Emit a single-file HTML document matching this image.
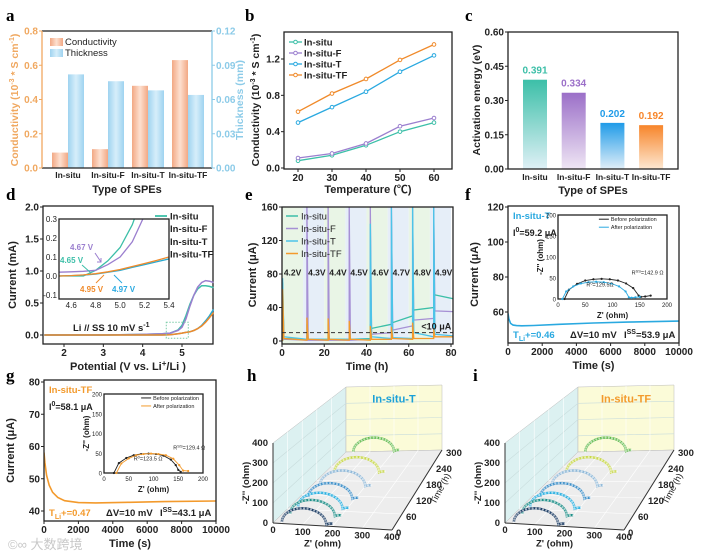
<!DOCTYPE html>
<html><head><meta charset="utf-8"><style>
html,body{margin:0;padding:0;background:#fff;}
svg{display:block;font-family:"Liberation Sans","Noto Sans CJK SC",sans-serif;}
.pl{font-family:"Liberation Serif",serif;font-weight:bold;font-size:17px;}
</style></head><body>
<svg id="fig" width="707" height="556" viewBox="0 0 707 556" xmlns="http://www.w3.org/2000/svg">
<defs>
<linearGradient id="gCond" x1="0" x2="1" y1="0" y2="0"><stop offset="0" stop-color="#f2a884"/><stop offset="0.5" stop-color="#fde0d0"/><stop offset="1" stop-color="#f2a884"/></linearGradient>
<linearGradient id="gThk" x1="0" x2="1" y1="0" y2="0"><stop offset="0" stop-color="#9fd3f0"/><stop offset="0.5" stop-color="#d6eefa"/><stop offset="1" stop-color="#9fd3f0"/></linearGradient>
<linearGradient id="gc0" x1="0" x2="0" y1="0" y2="1"><stop offset="0" stop-color="#3cbfa8"/><stop offset="1" stop-color="#dff0f6"/></linearGradient>
<linearGradient id="gc1" x1="0" x2="0" y1="0" y2="1"><stop offset="0" stop-color="#9b6fc8"/><stop offset="1" stop-color="#efe6f4"/></linearGradient>
<linearGradient id="gc2" x1="0" x2="0" y1="0" y2="1"><stop offset="0" stop-color="#1f9be8"/><stop offset="1" stop-color="#e0eef8"/></linearGradient>
<linearGradient id="gc3" x1="0" x2="0" y1="0" y2="1"><stop offset="0" stop-color="#f7852a"/><stop offset="1" stop-color="#fde8d2"/></linearGradient>
</defs>
<text class="pl" x="6" y="21">a</text>
<text class="pl" x="245" y="21">b</text>
<text class="pl" x="465" y="21">c</text>
<text class="pl" x="6" y="200">d</text>
<text class="pl" x="245" y="200">e</text>
<text class="pl" x="465" y="200">f</text>
<text class="pl" x="6" y="381">g</text>
<text class="pl" x="247" y="381">h</text>
<text class="pl" x="473" y="381">i</text>
<text x="8" y="549" font-size="13" fill="#c8c8c8">©∞ 大数跨境</text>
</svg>
<script>
// ---------- data ----------
const catsA = ["In-situ","In-situ-F","In-situ-T","In-situ-TF"];
const condA = [0.09,0.11,0.48,0.63];
const thickA = [0.082,0.076,0.068,0.064];
const tickA_L = [0,0.2,0.4,0.6,0.8];
const tickA_R = [0,0.03,0.06,0.09,0.12];

const tempB = [20,30,40,50,60];
const bInsitu = [0.08,0.14,0.25,0.40,0.50];
const bF = [0.11,0.16,0.27,0.46,0.55];
const bT = [0.50,0.67,0.84,1.06,1.24];
const bTF = [0.62,0.82,0.98,1.19,1.36];
const tickB_Y = [0,0.4,0.8,1.2];

const catsC = ["In-situ","In-situ-F","In-situ-T","In-situ-TF"];
const eaC = [0.391,0.334,0.202,0.192];
const tickC_Y = [0,0.15,0.30,0.45,0.60];

const potD = [1.5,2,3,4,4.5,4.7,4.9,5.0,5.1,5.2,5.3,5.4,5.5,5.6,5.7,5.8];
const dInsitu = [0,0,0,0.01,0.02,0.03,0.08,0.15,0.3,0.48,0.62,0.72,0.77,0.77,0.76,0.74];
const dF = [0,0,0,0.01,0.02,0.03,0.07,0.12,0.25,0.45,0.62,0.75,0.82,0.85,0.84,0.82];
const dT = [0,0,0,0,0,0.005,0.02,0.03,0.04,0.05,0.07,0.1,0.15,0.22,0.3,0.4];
const dTF = [0,0,0,0,0,0.005,0.02,0.03,0.04,0.05,0.07,0.1,0.14,0.2,0.27,0.35];
const potIn = [4.5,4.6,4.7,4.8,4.9,5.0,5.1,5.2,5.3,5.4];
const inInsitu = [0.0,0.0,0.0,0.03,0.08,0.15,0.27,0.45,0.6,0.7];
const inF = [0.02,0.022,0.025,0.03,0.06,0.1,0.18,0.32,0.5,0.6];
const inT = [0.0,0.002,0.005,0.01,0.02,0.03,0.045,0.06,0.075,0.09];
const inTF = [0.0,0.002,0.006,0.012,0.022,0.034,0.05,0.066,0.082,0.1];

const voltE = ["4.2V","4.3V","4.4V","4.5V","4.6V","4.7V","4.8V","4.9V"];
const eSpikeInsitu = [70,10,10,10,20,25,40,55];
const eStartInsitu = [3,2,2,2,15,22,37,55];
const eEndInsitu = [2,2,2,3,20,30,40,50];
const eSpikeF = [60,160,160,160,160,160,160,160];
const eStartF = [2,1,1,1,8,13,25,36];
const eEndF = [1,1,1,2,10,18,27,35];
const eSpikeT = [75,20,20,20,140,160,160,160];
const eStartT = [5,2,2,2,5,4,10,8];
const eEndT = [2,2,2,2,3,3,5,6];
const eSpikeTF = [62,28,27,24,18,17,22,14];
const eStartTF = [3,2,2,2,2,3,3,5];
const eEndTF = [1,1,1,1,2,2,3,5];

const timeF = [0,50,150,300,500,800,1500,3000,5000,7000,10000];
const curF = [59.2,56,53.5,52.5,52.2,52.1,52.3,53,53.7,54.2,54.8];
const nyqZrF_b = [12,20,35,50,65,80,95,110,125,138,148,152,160,170];
const nyqZiF_b = [0,22,36,44,47,48,47,44,37,26,8,5,6,8];
const nyqZrF_a = [8,15,28,42,56,70,84,98,112,124,130,135,142,150];
const nyqZiF_a = [0,18,30,37,40,41,40,37,30,18,4,3,4,5];

const timeG = [0,50,150,300,500,800,1200,2000,3000,5000,7000,10000];
const curG = [58.1,55,51,48,45.8,44.2,43.2,42.6,42.5,42.7,42.9,43.1];
const nyqZrG_b = [20,30,45,60,75,90,105,120,135,145,150,155];
const nyqZiG_b = [0,25,38,45,48,49,48,44,34,20,8,3];
const nyqZrG_a = [25,35,50,65,80,95,110,125,140,152,160,170];
const nyqZiG_a = [0,24,37,45,48,49,48,45,36,20,6,5];

const t3d = [6,40,70,110,160,215,300];
const r03d = [25,25,28,30,30,35,30];
const rct3d = [175,180,185,190,200,210,200];
const z3Ticks = [0,100,200,300,400];
const t3Ticks = [0,60,120,180,240,300];

// ---------- helpers ----------
const svg = document.getElementById('fig');
const NS = "http://www.w3.org/2000/svg";
function mk(tag, attrs, name, parent){
  const el = document.createElementNS(NS, tag);
  for (const k in attrs) el.setAttribute(k, attrs[k]);
  
  
  (parent||svg).appendChild(el);
  return el;
}
function txt(x,y,s,name,o){
  o=o||{};
  const a={x:x,y:y,'font-size':o.fs||10,'font-weight':o.fw||'bold',fill:o.fill||'#222','text-anchor':o.anchor||'middle'};
  if(o.rot!==undefined) a.transform='rotate('+o.rot+' '+x+' '+y+')';
  const t=mk('text',a,name,o.parent);
  t.innerHTML=s; return t;
}
function lin(d0,d1,r0,r1){return v=>r0+(v-d0)*(r1-r0)/(d1-d0);}
function box(x0,y0,x1,y1,name,col){mk('rect',{x:x0,y:y0,width:x1-x0,height:y1-y0,fill:'none',stroke:col||'#222','stroke-width':1.3},name);}
function poly(xs,ys,sx,sy,col,name,w){
  let d='';xs.forEach((v,i)=>{d+=(i?'L':'M')+sx(v).toFixed(1)+','+sy(ys[i]).toFixed(1);});
  return mk('path',{d:d,fill:'none',stroke:col,'stroke-width':w||1.3},name);
}
function yTicks(vals,sy,x,name,o,fmt){vals.forEach(v=>{mk('line',{x1:x-3,x2:x,y1:sy(v),y2:sy(v),stroke:(o&&o.fill)||'#222'},name+'-tick');txt(x-4,sy(v)+3.5,fmt?fmt(v):v,name+'-label',Object.assign({anchor:'end'},o||{}));});}
function xTicks(vals,sx,y,name,o,fmt){vals.forEach(v=>{mk('line',{x1:sx(v),x2:sx(v),y1:y,y2:y+3,stroke:'#222'},name+'-tick');txt(sx(v),y+12,fmt?fmt(v):v,name+'-label',o);});}

// ---------- panel a ----------
(function(){
  const y0=168,y1=31,sy=lin(0,0.8,y0,y1),sy2=lin(0,0.12,y0,y1);
  const cx=i=>68+40*i;
  condA.forEach((v,i)=>mk('rect',{x:cx(i)-16,y:sy(v),width:16,height:y0-sy(v),fill:'url(#gCond)'},'bar-conductivity-'+i));
  thickA.forEach((v,i)=>mk('rect',{x:cx(i),y:sy2(v),width:16,height:y0-sy2(v),fill:'url(#gThk)'},'bar-thickness-'+i));
  mk('line',{x1:42,x2:212,y1:31,y2:31,stroke:'#222','stroke-width':1.3},'a-top');
  mk('line',{x1:42,x2:212,y1:168,y2:168,stroke:'#222','stroke-width':1.3},'a-bottom');
  mk('line',{x1:42,x2:42,y1:31,y2:168,stroke:'#f0a860','stroke-width':1.3},'a-left-axis');
  mk('line',{x1:212,x2:212,y1:31,y2:168,stroke:'#8ccbe8','stroke-width':1.3},'a-right-axis');
  yTicks(tickA_L,sy,42,'a-ytick',{fill:'#f0a860',fs:10},v=>v.toFixed(1));
  tickA_R.forEach(v=>{mk('line',{x1:212,x2:215,y1:sy2(v),y2:sy2(v),stroke:'#8ccbe8'},'a-y2-tick');txt(216,sy2(v)+3.5,v.toFixed(2),'a-y2-label',{anchor:'start',fill:'#8ccbe8'});});
  catsA.forEach((c,i)=>txt(cx(i),178,c,'a-xlabel',{fs:8.5}));
  txt(127,193,'Type of SPEs','a-x-title',{fs:11});
  txt(18,100,'Conductivity (10<tspan dy="-4" font-size="7">-3</tspan><tspan dy="4"> * S cm</tspan><tspan dy="-4" font-size="7">-1</tspan><tspan dy="4">)</tspan>','a-y-title',{fs:10.5,fill:'#f0a860',rot:-90});
  txt(243,100,'Thickness (mm)','a-y2-title',{fs:10.5,fill:'#8ccbe8',rot:-90});
  mk('rect',{x:50,y:38,width:13,height:8,fill:'url(#gCond)'},'legend-swatch-conductivity');
  txt(65,45,'Conductivity','legend-conductivity',{anchor:'start',fw:'normal',fs:9.5});
  mk('rect',{x:50,y:49,width:13,height:8,fill:'url(#gThk)'},'legend-swatch-thickness');
  txt(65,56,'Thickness','legend-thickness',{anchor:'start',fw:'normal',fs:9.5});
})();

// ---------- panel b ----------
(function(){
  const sx=lin(20,60,298,434),sy=lin(0,1.2,168,59);
  box(284,32,452,169,'b-plot-box');
  const ser=[[bInsitu,'#3cbfa8','In-situ'],[bF,'#9b7fcf','In-situ-F'],[bT,'#2aa9e0','In-situ-T'],[bTF,'#f08a2a','In-situ-TF']];
  ser.forEach((s,k)=>{poly(tempB,s[0],sx,sy,s[1],'line-'+s[2]);s[0].forEach((v,i)=>mk('circle',{cx:sx(tempB[i]),cy:sy(v),r:1.8,fill:'#fff',stroke:s[1]},'point-'+s[2]));
    const ly=42+11*k;mk('line',{x1:289,x2:302,y1:ly,y2:ly,stroke:s[1],'stroke-width':1.3},'b-legend-line');mk('circle',{cx:295.5,cy:ly,r:1.8,fill:'#fff',stroke:s[1]},'b-legend-marker');txt(304,ly+3.5,s[2],'b-legend-'+s[2],{anchor:'start',fs:9.5});});
  yTicks(tickB_Y,sy,284,'b-ytick',{fs:10},v=>v.toFixed(1));
  xTicks(tempB,sx,169,'b-xtick',{fs:10});
  txt(368,193,'Temperature (℃)','b-x-title',{fs:11});
  txt(259,100,'Conductivity (10<tspan dy="-4" font-size="7">-3</tspan><tspan dy="4"> * S cm</tspan><tspan dy="-4" font-size="7">-1</tspan><tspan dy="4">)</tspan>','b-y-title',{fs:10.5,rot:-90});
})();

// ---------- panel c ----------
(function(){
  const sy=lin(0,0.6,169,32),cx=i=>535+38.7*i;
  const cols=['#3cbfa8','#9b6fc8','#1f9be8','#f7852a'];
  eaC.forEach((v,i)=>{mk('rect',{x:cx(i)-12,y:sy(v),width:24,height:169-sy(v),fill:'url(#gc'+i+')'},'bar-activation-'+i);txt(cx(i),sy(v)-6,v.toFixed(3),'c-value-label',{fill:cols[i],fs:10});});
  box(508,32,678,169,'c-plot-box');
  yTicks(tickC_Y,sy,508,'c-ytick',{fs:10},v=>v.toFixed(2));
  catsC.forEach((c,i)=>txt(cx(i),180,c,'c-xlabel',{fs:8.5}));
  txt(593,194,'Type of SPEs','c-x-title',{fs:11});
  txt(480,100,'Activation energy (eV)','c-y-title',{fs:10.5,rot:-90});
})();

// ---------- panel d ----------
(function(){
  const sx=lin(2,5,64,182),sy=lin(0,2,335,207);
  box(43,206,213,344,'d-plot-box');
  const cols=['#3cbfa8','#9b7fcf','#2aa9d0','#f08a2a'],names=['In-situ','In-situ-F','In-situ-T','In-situ-TF'];
  [dInsitu,dF,dT,dTF].forEach((s,k)=>poly(potD,s,sx,sy,cols[k],'d-line-'+names[k],1.5));
  mk('rect',{x:sx(4.6),y:sy(0.2),width:sx(5.16)-sx(4.6),height:sy(-0.05)-sy(0.2),fill:'none',stroke:'#7ccca8','stroke-dasharray':'1.5,1.5'},'d-zoom-box');
  yTicks([0,0.5,1.0,1.5,2.0],sy,43,'d-ytick',{fs:10},v=>v.toFixed(1));
  xTicks([2,3,4,5],sx,344,'d-xtick',{fs:10});
  txt(128,370,'Potential (V vs. Li<tspan dy="-4" font-size="8">+</tspan><tspan dy="4">/Li )</tspan>','d-x-title',{fs:11});
  txt(16,275,'Current (mA)','d-y-title',{fs:11,rot:-90});
  txt(73,331,'Li // SS  10 mV s<tspan dy="-4" font-size="7">-1</tspan>','d-annotation',{anchor:'start',fs:9.5});
  names.forEach((n,k)=>{const ly=216+12.7*k;mk('line',{x1:155,x2:167,y1:ly,y2:ly,stroke:cols[k],'stroke-width':1.8},'d-legend-line');txt(170,ly+3.5,n,'d-legend-'+n,{anchor:'start',fs:9.5});});
  const ix=lin(4.5,5.4,59,169),iy=lin(-0.1,0.3,295,219);
  mk('rect',{x:59,y:219,width:110,height:80,fill:'#fff'},'d-inset-bg');
  const cp=mk('clipPath',{id:'cpd'},'d-inset-clip');
  mk('rect',{x:59,y:219,width:110,height:80},'d-inset-clip-rect',cp);
  const g=mk('g',{'clip-path':'url(#cpd)'},'d-inset-lines');
  [inInsitu,inF,inT,inTF].forEach((s,k)=>{const p=poly(potIn,s,ix,iy,cols[k],'d-inset-line-'+names[k],1.3);g.appendChild(p);});
  box(59,219,169,299,'d-inset-box');
  [-0.1,0,0.1,0.2,0.3].forEach(v=>txt(57,iy(v)+3,v.toFixed(1),'d-inset-ytick',{anchor:'end',fs:8,fw:'normal'}));
  [4.6,4.8,5.0,5.2,5.4].forEach(v=>txt(ix(v),308,v.toFixed(1),'d-inset-xtick',{fs:8,fw:'normal'}));
  txt(70,250,'4.67 V','d-inset-label-F',{anchor:'start',fs:8,fill:'#9b7fcf'});
  txt(60,263,'4.65 V','d-inset-label-insitu',{anchor:'start',fs:8,fill:'#3cbfa8'});
  txt(80,292,'4.95 V','d-inset-label-TF',{anchor:'start',fs:8,fill:'#f08a2a'});
  txt(112,292,'4.97 V','d-inset-label-T',{anchor:'start',fs:8,fill:'#2aa9e0'});
  mk('path',{d:'M95,253 L101,262 M97,262 L101,262 L101,258',stroke:'#9b7fcf',fill:'none'},'d-arrow-F');
  mk('path',{d:'M82,265 L91,273',stroke:'#3cbfa8',fill:'none'},'d-arrow-insitu');
  mk('path',{d:'M96,283 L104,275',stroke:'#f08a2a',fill:'none'},'d-arrow-TF');
  mk('path',{d:'M122,283 L114,275',stroke:'#2aa9e0',fill:'none'},'d-arrow-T');
})();

// ---------- panel e ----------
(function(){
  const sx=lin(0,80,282,451),sy=lin(0,160,341,207);
  for(let k=0;k<8;k++){mk('rect',{x:sx(10*k),y:207,width:sx(10)-sx(0),height:137,fill:k%2?'#e6eef8':'#e9f5e6'},'e-band-'+k);}
  const cp=mk('clipPath',{id:'cpe'},'e-clip');mk('rect',{x:282,y:207,width:171,height:137},'e-clip-rect',cp);
  const g=mk('g',{'clip-path':'url(#cpe)'},'e-series');
  const ser=[[eSpikeF,eStartF,eEndF,'#a690d4','In-situ-F'],[eSpikeInsitu,eStartInsitu,eEndInsitu,'#3cbfa8','In-situ'],[eSpikeT,eStartT,eEndT,'#4cc4e8','In-situ-T'],[eSpikeTF,eStartTF,eEndTF,'#f39a2c','In-situ-TF']];
  ser.forEach(s=>{const xs=[],ys=[];for(let k=0;k<8;k++){const t0=10*k+(k?1.8:0.3);xs.push(t0,t0,t0+0.6,10*k+11.8);ys.push(k?s[2][k-1]:0,s[0][k],s[1][k],s[2][k]);}
    const p=poly(xs,ys,sx,sy,s[3],'e-line-'+s[4],1.3);g.appendChild(p);});
  mk('line',{x1:282,x2:453,y1:sy(10),y2:sy(10),stroke:'#333','stroke-dasharray':'4,3'},'e-threshold-line');
  txt(sx(66),sy(14),'&lt;10 μA','e-threshold-label',{anchor:'start',fs:9});
  voltE.forEach((v,k)=>txt(sx(10*k+(k?6.5:5)),sy(78),v,'e-voltage-label',{fs:8.5}));
  box(282,207,453,344,'e-plot-box');
  yTicks([0,40,80,120,160],sy,282,'e-ytick',{fs:10});
  xTicks([0,20,40,60,80],sx,344,'e-xtick',{fs:10});
  txt(367,370,'Time (h)','e-x-title',{fs:11});
  txt(256,275,'Current (μA)','e-y-title',{fs:11,rot:-90});
  [['In-situ','#3cbfa8'],['In-situ-F','#a690d4'],['In-situ-T','#4cc4e8'],['In-situ-TF','#f39a2c']].forEach((s,k)=>{const ly=216+12.5*k;mk('line',{x1:286,x2:298,y1:ly,y2:ly,stroke:s[1],'stroke-width':1.5},'e-legend-line');txt(301,ly+3.5,s[0],'e-legend-'+s[0],{anchor:'start',fs:9.5,fw:'normal'});});
})();

// ---------- panels f, g ----------
function polPanel(o){
  const sx=lin(0,10000,o.x0,o.x1),sy=lin(o.v0,o.v1,o.p0,o.p1);
  const cp=mk('clipPath',{id:'cp'+o.p},o.p+'-clip');mk('rect',{x:o.x0,y:o.yt,width:o.x1-o.x0,height:o.yb-o.yt},o.p+'-clip-rect',cp);
  const g=mk('g',{'clip-path':'url(#cp'+o.p+')'},o.p+'-series');
  g.appendChild(poly(o.t,o.c,sx,sy,o.col,o.p+'-current-line',1.6));
  box(o.x0,o.yt,o.x1,o.yb,o.p+'-plot-box');
  yTicks(o.yticks,sy,o.x0,o.p+'-ytick',{fs:10});
  xTicks([0,2000,4000,6000,8000,10000],sx,o.yb,o.p+'-xtick',{fs:10});
  txt((o.x0+o.x1)/2,o.yb+26,'Time (s)',o.p+'-x-title',{fs:11});
  txt(o.x0-30,(o.yt+o.yb)/2,'Current (μA)',o.p+'-y-title',{fs:11,rot:-90});
  txt(o.x0+5,o.yt+13,o.name,o.p+'-sample-label',{anchor:'start',fs:9.5,fill:o.col});
  txt(o.x0+5,o.yt+30,'I<tspan dy="-4" font-size="7">0</tspan><tspan dy="4">='+o.i0+' μA</tspan>',o.p+'-i0-label',{anchor:'start',fs:9});
  txt(o.x0+5,o.yb-5,'T<tspan dy="3" font-size="7">Li</tspan><tspan dy="-3">+='+o.tli+'</tspan>',o.p+'-tli-label',{anchor:'start',fs:9.5,fill:o.col});
  txt(o.x0+62,o.yb-5,'ΔV=10 mV',o.p+'-dv-label',{anchor:'start',fs:9.5});
  txt(o.x0+116,o.yb-5,'I<tspan dy="-4" font-size="7">SS</tspan><tspan dy="4">='+o.iss+' μA</tspan>',o.p+'-iss-label',{anchor:'start',fs:9.5});
  const ix=lin(0,200,o.ix0,o.ix1),iy=lin(0,200,o.iy1,o.iy0);
  mk('rect',{x:o.ix0,y:o.iy0,width:o.ix1-o.ix0,height:o.iy1-o.iy0,fill:'#fff'},o.p+'-inset-bg');
  box(o.ix0,o.iy0,o.ix1,o.iy1,o.p+'-inset-box');
  [0,50,100,150,200].forEach(v=>{txt(o.ix0-2,iy(v)+2.5,v,o.p+'-inset-ytick',{anchor:'end',fs:6,fw:'normal'});txt(ix(v),o.iy1+8,v,o.p+'-inset-xtick',{fs:6,fw:'normal'});});
  txt(ix(100),o.iy1+19,"Z' (ohm)",o.p+'-inset-x-title',{fs:8});
  txt(o.ix0-15,(o.iy0+o.iy1)/2,"-Z'' (ohm)",o.p+'-inset-y-title',{fs:8,rot:-90});
  [[o.bz,o.bi,'#222','before'],[o.az,o.ai,o.col,'after']].forEach(s=>{poly(s[0],s[1],ix,iy,s[2],o.p+'-nyquist-'+s[3],0.9);s[0].forEach((v,i)=>mk('circle',{cx:ix(v),cy:iy(s[1][i]),r:1.1,fill:s[2]},o.p+'-nyquist-point-'+s[3]));});
  const lx=ix(75),ly=iy(190);
  mk('line',{x1:lx,x2:lx+10,y1:ly,y2:ly,stroke:'#222'},o.p+'-inset-legend-line');txt(lx+12,ly+2,'Before polarization',o.p+'-inset-legend-before',{anchor:'start',fs:5.5,fw:'normal'});
  mk('line',{x1:lx,x2:lx+10,y1:ly+8,y2:ly+8,stroke:o.col},o.p+'-inset-legend-line');txt(lx+12,ly+10,'After polarization',o.p+'-inset-legend-after',{anchor:'start',fs:5.5,fw:'normal'});
  txt(ix(o.r1x),iy(o.r1y),o.r1,o.p+'-rss-label',{anchor:'start',fs:5.5,fw:'normal'});
  txt(ix(o.r2x),iy(o.r2y),o.r2,o.p+'-r0-label',{anchor:'start',fs:5.5,fw:'normal'});
}
polPanel({p:'f',x0:508,x1:679,yt:206,yb:343,v0:60,v1:120,p0:312,p1:207,yticks:[60,80,100,120],t:timeF,c:curF,col:'#2aa9e0',name:'In-situ-T',i0:'59.2',tli:'0.46',iss:'53.9',
  ix0:558,ix1:667,iy0:215,iy1:299,bz:nyqZrF_b,bi:nyqZiF_b,az:nyqZrF_a,ai:nyqZiF_a,r1:'R<tspan dy="-2" font-size="4">SS</tspan><tspan dy="2">=142.9 Ω</tspan>',r1x:135,r1y:58,r2:'R<tspan dy="-2" font-size="4">0</tspan><tspan dy="2">=129.5Ω</tspan>',r2x:52,r2y:30});
polPanel({p:'g',x0:44,x1:216,yt:380,yb:521,v0:40,v1:80,p0:511,p1:382,yticks:[40,50,60,70,80],t:timeG,c:curG,col:'#f39a2c',name:'In-situ-TF',i0:'58.1',tli:'0.47',iss:'43.1',
  ix0:104,ix1:203,iy0:394,iy1:473,bz:nyqZrG_b,bi:nyqZiG_b,az:nyqZrG_a,ai:nyqZiG_a,r1:'R<tspan dy="-2" font-size="4">SS</tspan><tspan dy="2">=129.4 Ω</tspan>',r1x:140,r1y:60,r2:'R<tspan dy="-2" font-size="4">0</tspan><tspan dy="2">=123.5 Ω</tspan>',r2x:60,r2y:32});

// ---------- 3D panels h, i ----------
function panel3d(dx,label,lcol,cols,p){
  const FL=[273+dx,523],FR=[392+dx,530],BR=[442+dx,450],BL=[346+dx,452];
  const P=(z,t,h)=>{const u=z/400,v=t/300;
    const x=(1-u)*(1-v)*FL[0]+u*(1-v)*FR[0]+u*v*BR[0]+(1-u)*v*BL[0];
    const y=(1-u)*(1-v)*FL[1]+u*(1-v)*FR[1]+u*v*BR[1]+(1-u)*v*BL[1];
    const s=0.2-0.0375*v;return [x,y-h*s];};
  const pts=a=>a.map(q=>q[0].toFixed(1)+','+q[1].toFixed(1)).join(' ');
  mk('polygon',{points:pts([P(0,0,0),P(0,0,400),P(0,300,400),P(0,300,0)]),fill:'#dcf1f1',stroke:'#bbb','stroke-width':0.5},p+'-left-wall');
  mk('polygon',{points:pts([P(0,300,0),P(0,300,400),P(400,300,400),P(400,300,0)]),fill:'#fbfbd8',stroke:'#bbb','stroke-width':0.5},p+'-back-wall');
  mk('polygon',{points:pts([P(0,0,0),P(400,0,0),P(400,300,0),P(0,300,0)]),fill:'#ededed',stroke:'#bbb','stroke-width':0.5},p+'-floor');
  [100,200,300].forEach(v=>{const a=P(v,0,0),b=P(v,300,0),c=P(v,300,400);mk('polyline',{points:pts([a,b,c]),fill:'none',stroke:'#fff','stroke-width':0.6},p+'-grid');
    const d=P(0,0,v),e=P(0,300,v),f=P(400,300,v);mk('polyline',{points:pts([d,e,f]),fill:'none',stroke:'#c8dcdc','stroke-width':0.6},p+'-grid');});
  [60,120,180,240].forEach(v=>{mk('polyline',{points:pts([P(0,v,400),P(0,v,0),P(400,v,0)]),fill:'none',stroke:'#fff','stroke-width':0.6},p+'-grid');});
  mk('line',{x1:P(0,0,0)[0],y1:P(0,0,0)[1],x2:P(0,0,400)[0],y2:P(0,0,400)[1],stroke:'#333'},p+'-z-axis');
  mk('line',{x1:P(0,0,0)[0],y1:P(0,0,0)[1],x2:P(400,0,0)[0],y2:P(400,0,0)[1],stroke:'#333'},p+'-x-axis');
  mk('line',{x1:P(400,0,0)[0],y1:P(400,0,0)[1],x2:P(400,300,0)[0],y2:P(400,300,0)[1],stroke:'#333'},p+'-t-axis');
  for(let k=t3d.length-1;k>=0;k--){
    const t=t3d[k],r0=r03d[k],r1=rct3d[k],c=(r0+r1)/2,R=(r1-r0)/2,arr=[];
    for(let a=180;a>=0;a-=9){const rad=a*Math.PI/180;arr.push(P(c+R*Math.cos(rad),t,R*Math.sin(rad)));}
    arr.push(P(r1+10,t,6));arr.push(P(r1+22,t,6));
    mk('polyline',{points:pts(arr),fill:'none',stroke:cols[k],'stroke-width':2.4},p+'-nyquist-arc-'+k);
    arr.forEach(q=>mk('circle',{cx:q[0],cy:q[1],r:1.1,fill:'#fff',opacity:0.6},p+'-nyquist-marker'));
  }
  z3Ticks.forEach(v=>{const a=P(v,0,0);txt(a[0],a[1]+10,v,p+'-zp-tick',{fs:9.5});const b=P(0,0,v);txt(b[0]-5,b[1]+3,v,p+'-zpp-tick',{anchor:'end',fs:9.5});});
  t3Ticks.forEach(v=>{const a=P(400,v,0);txt(a[0]+4,a[1]+6,v,p+'-time-tick',{anchor:'start',fs:9.5});});
  txt(P(200,0,0)[0]-10,P(200,0,0)[1]+20,"Z' (ohm)",p+'-zp-title',{fs:9.5});
  txt(P(0,0,200)[0]-24,P(0,0,200)[1],"-Z'' (ohm)",p+'-zpp-title',{fs:9.5,rot:-90});
  txt(P(400,150,0)[0]+26,P(400,150,0)[1],"Time (h)",p+'-time-title',{fs:9,fw:'normal',rot:-62});
  txt(P(200,300,300)[0],P(200,300,300)[1],label,p+'-sample-label',{fs:11,fill:lcol});
}
panel3d(0,'In-situ-T','#1aa0d8',['#1f3f66','#1f8f88','#2ab0e0','#3d8fc8','#8fb8d8','#c8d84a','#5cb848'],'h');
panel3d(232,'In-situ-TF','#f39a2c',['#1f3f66','#1f8f88','#2ab0e0','#3d8fc8','#8fb8d8','#c8d84a','#5cb848'],'i');
</script>
</body></html>
